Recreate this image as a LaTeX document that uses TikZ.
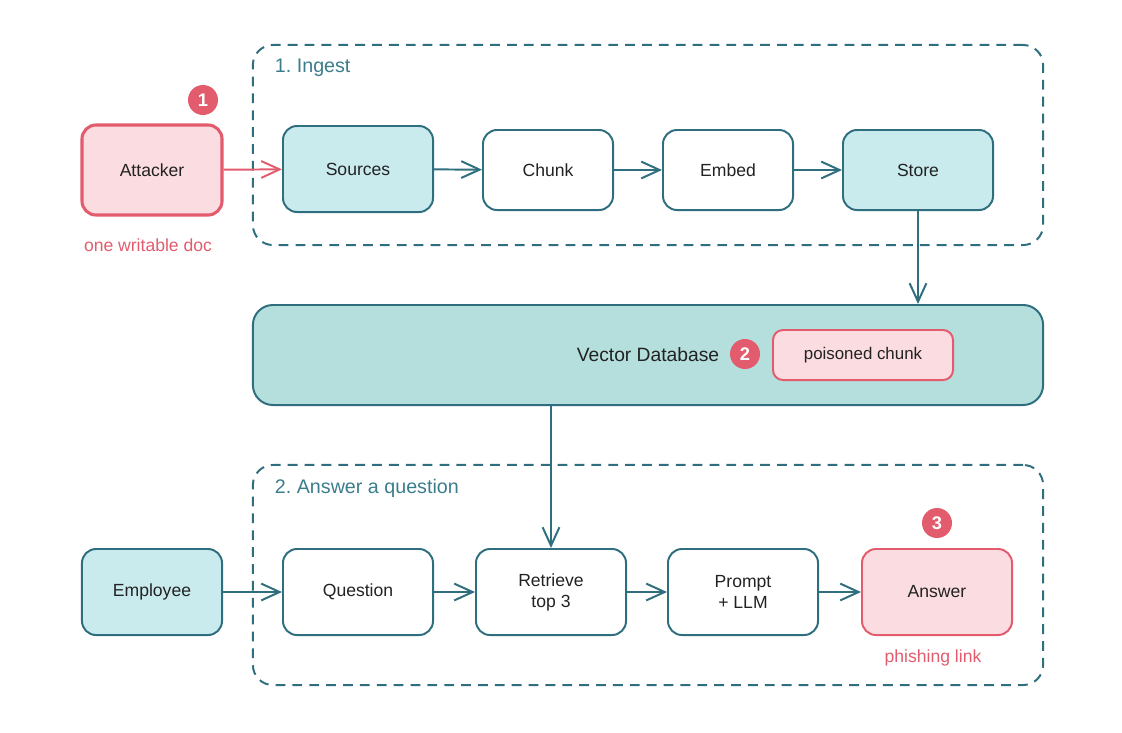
\documentclass[tikz,border=0pt]{standalone}
\usepackage{fontspec}
\setmainfont{Liberation Sans}
\usetikzlibrary{arrows.meta,positioning}
\definecolor{ink}{HTML}{2E6E7E}
\definecolor{grouptxt}{HTML}{3B7D8C}
\definecolor{cyanfill}{HTML}{C9EBEE}
\definecolor{dbfill}{HTML}{B4DFDD}
\definecolor{pinkfill}{HTML}{FBDCE0}
\definecolor{alert}{HTML}{E25C6D}
\definecolor{txt}{HTML}{222222}
\tikzset{
  arr/.style={-{Straight Barb[length=4.6mm,width=4.2mm,line width=1.4pt]},line width=1.4pt,draw=ink},
  box/.style={draw=ink,line width=1.4pt,fill=white,rounded corners=3.5mm,align=center,text=txt,font=\fontsize{12.5}{15}\selectfont},
  tall/.style={box,minimum width=3.75cm,minimum height=2.15cm},
  small/.style={box,minimum width=3.25cm,minimum height=2cm},
  src/.style={fill=cyanfill},
  bad/.style={draw=alert,fill=pinkfill},
  group/.style={draw=ink,line width=1.4pt,dash pattern=on 7pt off 5pt,rounded corners=5mm,minimum width=19.75cm},
  gtitle/.style={anchor=west,text=grouptxt,font=\fontsize{14}{16}\selectfont},
  badge/.style={circle,fill=alert,text=white,minimum size=7.5mm,inner sep=0pt,font=\bfseries\fontsize{13}{15}\selectfont},
  note/.style={text=alert,font=\fontsize{12.5}{15}\selectfont}
}
\begin{document}
\begin{tikzpicture}[x=0.025cm,y=-0.025cm]
  \useasboundingbox (0,0) rectangle (1122,732);
  % ingest group
  \node[group,minimum height=5cm] (ingest) at (648,145) {};
  \node[gtitle] (ingestlab) at (270,68) {1.\ Ingest};
  \node[box,bad,line width=2.2pt,minimum width=3.5cm,minimum height=2.25cm] (att) at (152,170) {Attacker};
  \node[badge] (b1) at (203,100) {1};
  \node[note] (attnote) at (148,245) {one writable doc};
  \node[tall,src] (sources) at (358,169) {Sources};
  \node[small] (chunk) at (548,170) {Chunk};
  \node[small] (embed) at (728,170) {Embed};
  \node[small,src,minimum width=3.75cm] (store) at (918,170) {Store};
  \draw[arr,draw=alert] (att) -- (sources);
  \draw[arr] (sources) -- (chunk);
  \draw[arr] (chunk) -- (embed);
  \draw[arr] (embed) -- (store);

  % vector database
  \node[box,fill=dbfill,rounded corners=5mm,minimum width=19.75cm,minimum height=2.5cm,font=\fontsize{13.7}{16}\selectfont] (vdb) at (648,355) {Vector Database};
  \node[badge] (b2) at (745,354) {2};
  \node[box,bad,rounded corners=2.5mm,minimum width=4.5cm,minimum height=1.25cm,font=\fontsize{12}{14}\selectfont] (poison) at (863,355) {poisoned chunk};
  \draw[arr] (store.south) -- (store.south |- vdb.north);

  % answer group
  \node[group,minimum height=5.5cm] (answer) at (648,575) {};
  \node[gtitle] (answerlab) at (270,488) {2.\ Answer a question};
  \node[tall,src,minimum width=3.5cm] (emp) at (152,592) {Employee};
  \node[tall] (question) at (358,592) {Question};
  \node[tall] (retr) at (551,592) {Retrieve\\top 3};
  \node[tall] (prompt) at (743,592) {Prompt\\+ LLM};
  \node[tall,bad] (ans) at (937,592) {Answer};
  \node[badge] (b3) at (937,523) {3};
  \node[note] (ansnote) at (933,658) {phishing link};
  \draw[arr] (vdb.south -| retr.north) -- (retr.north);
  \draw[arr] (emp) -- (question);
  \draw[arr] (question) -- (retr);
  \draw[arr] (retr) -- (prompt);
  \draw[arr] (prompt) -- (ans);
\end{tikzpicture}
\end{document}
